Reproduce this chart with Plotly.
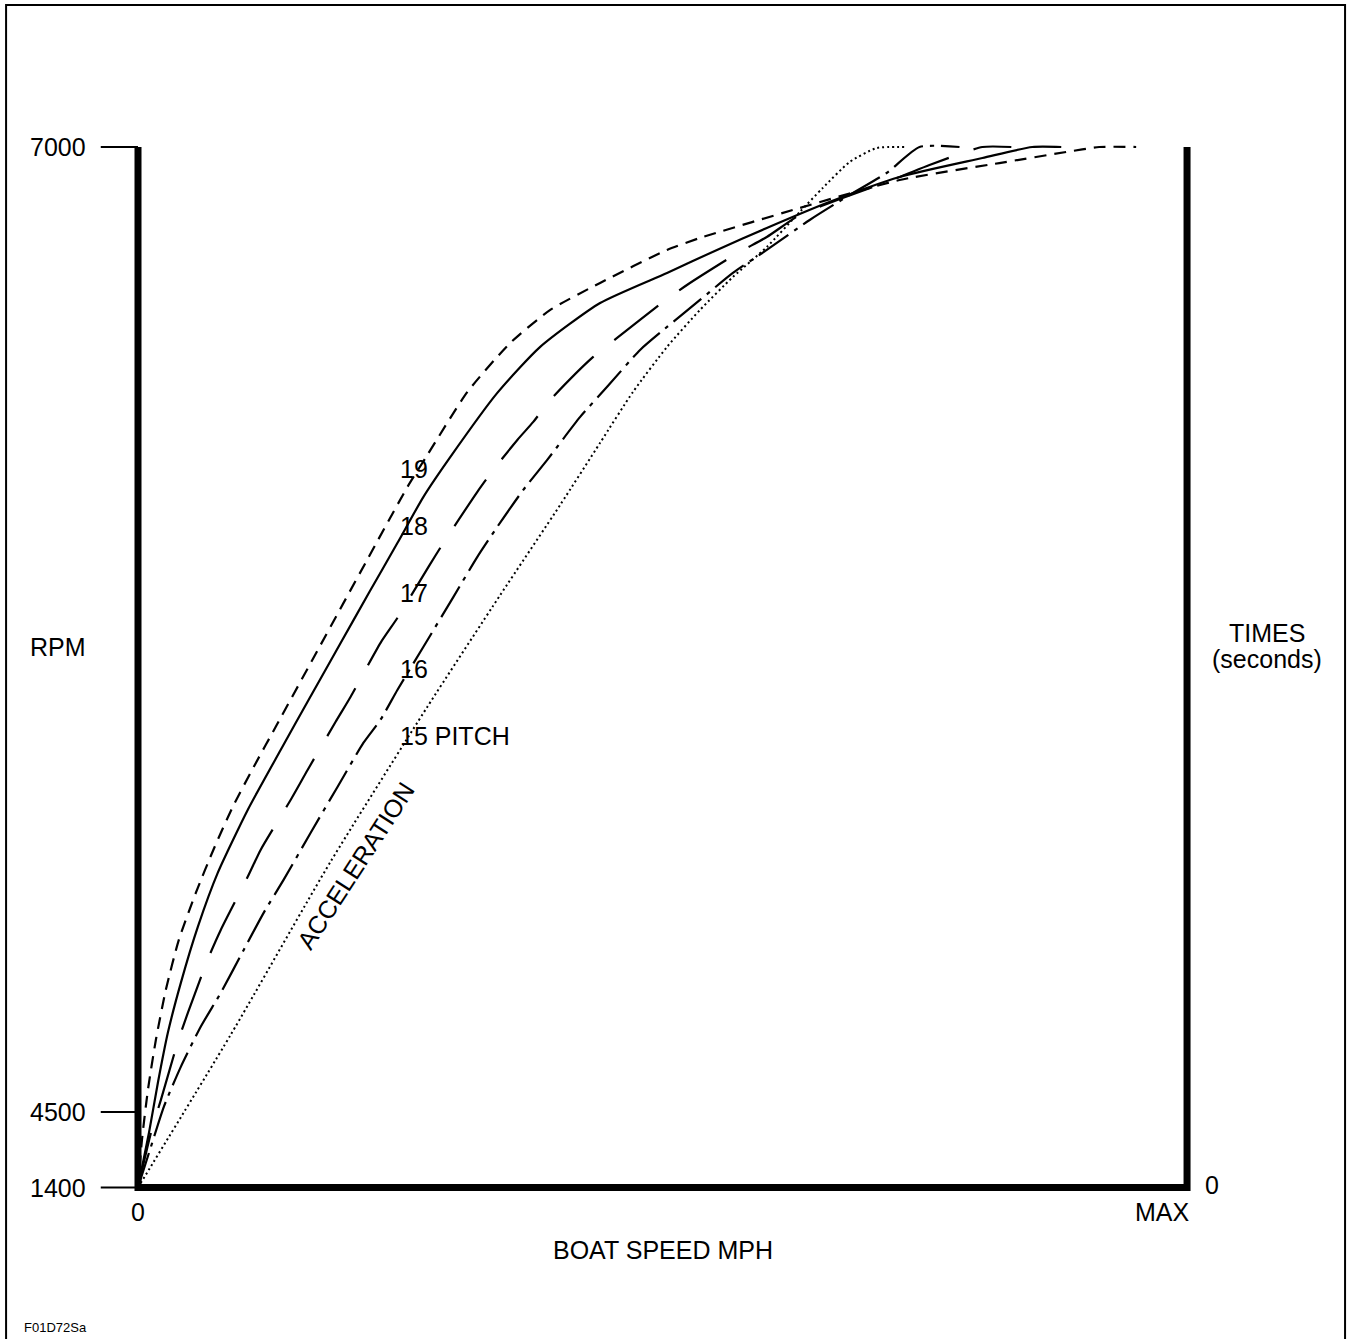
import plotly.graph_objects as go

# Boat speed as % of MAX, RPM as % of the (non-linear) rpm axis height
pitch19_speed = [0, 0.38, 0.95, 1.71, 2.66, 3.90, 5.52, 7.23, 9.04, 11.04, 13.13, 17.41, 21.69, 25.69,
                 27.59, 31.40, 35.49, 39.30, 44.05, 50.43, 53.57, 63.08, 72.60, 82.11, 88.49, 91.63, 95.15]
pitch19_rpm = [0, 4.61, 9.41, 14.22, 19.02, 23.82, 28.34, 32.56, 36.60, 40.44, 44.28, 52.16, 60.04, 67.34,
               70.41, 76.46, 81.17, 84.34, 86.94, 90.11, 91.26, 94.14, 96.83, 98.46, 99.52, 100, 100]

pitch18_speed = [0, 1.05, 1.90, 2.85, 4.09, 5.71, 7.61, 10.47, 13.61, 16.27, 19.22, 22.07, 24.74, 27.21,
                 29.78, 34.25, 38.34, 44.05, 50.43, 55.19, 59.94, 65.65, 72.60, 80.49, 85.25, 88.01]
pitch18_rpm = [0, 5.28, 10.09, 14.89, 19.69, 25.07, 30.26, 36.31, 42.07, 46.88, 52.16, 57.25, 61.96, 66.38,
               70.22, 76.37, 80.79, 85.01, 87.90, 90.11, 92.22, 94.62, 97.12, 98.94, 100, 100]

pitch17_speed = [0, 1.24, 2.19, 3.81, 4.76, 6.76, 7.90, 10.47, 11.70, 14.56, 16.18, 18.84, 20.27, 23.12,
                 24.74, 27.69, 29.12, 32.35, 33.87, 36.16, 37.68, 39.30, 43.39, 45.67, 50.05, 52.33,
                 57.18, 59.94, 63.08, 67.17, 72.60, 75.45, 80.49, 83.25]
pitch17_rpm = [0, 5.28, 8.45, 14.03, 16.81, 22.19, 24.78, 29.88, 32.47, 37.27, 40.15, 44.76, 47.17, 52.35,
               54.76, 59.65, 61.96, 66.86, 68.97, 71.85, 73.58, 75.70, 79.83, 81.65, 85.11, 86.74,
               89.82, 91.35, 93.47, 95.10, 97.12, 98.27, 100, 100]

pitch16_speed = [0, 1.24, 2.47, 4.09, 5.99, 7.90, 10.09, 11.99, 13.89, 16.46, 19.03, 21.50, 23.12, 24.74,
                 27.21, 30.07, 32.35, 34.25, 36.73, 39.01, 42.15, 44.72, 47.86, 50.43, 53.57, 56.71,
                 59.94, 64.03, 67.84, 71.36, 74.50, 78.31]
pitch16_rpm = [0, 3.94, 7.78, 11.62, 15.47, 18.73, 22.86, 26.42, 29.59, 34.10, 38.52, 42.75, 44.96, 47.84,
               51.97, 56.77, 60.61, 63.50, 67.05, 69.93, 74.06, 76.95, 80.50, 82.71, 85.30, 87.90,
               90.11, 92.99, 95.39, 97.50, 100, 100]

pitch15_speed = [0, 8.85, 18.36, 27.59, 34.54, 40.25, 44.05, 47.19, 50.43, 53.57, 56.71, 59.94, 63.08,
                 65.27, 67.84, 70.41, 73.26]
pitch15_rpm = [0, 14.70, 31.32, 46.21, 56.96, 65.61, 71.57, 76.47, 80.79, 84.34, 87.51, 90.39, 93.76,
               96.06, 98.56, 99.90, 100]

rpm_tick_pos = [0, 7.26, 100]
rpm_tick_text = ["1400", "4500", "7000"]

curve_labels = ["19", "18", "17", "16", "15 PITCH"]
curve_label_pos = [69.07, 63.6, 57.1, 49.8, 43.4]

FONT = "Liberation Sans, Arial, sans-serif"

curves = [
    (pitch19_speed, pitch19_rpm, "12px,8px", 2.2),
    (pitch18_speed, pitch18_rpm, "solid", 2.2),
    (pitch17_speed, pitch17_rpm, "56px,26px", 2.2),
    (pitch16_speed, pitch16_rpm, "36px,7px,4px,7px", 2.2),
    (pitch15_speed, pitch15_rpm, "2px,3px", 2.0),
]

fig = go.Figure()
for xs, ys, dash, w in curves:
    fig.add_trace(go.Scatter(
        x=xs, y=ys, mode="lines",
        line=dict(color="black", width=w, dash=dash, shape="spline", smoothing=0.6),
        hoverinfo="skip", showlegend=False,
    ))

# axes frame (left, bottom, right) in one path so corners join
shapes = [
    dict(type="path", xref="x", yref="y", path="M 0,100 L 0,0 L 100,0 L 100,100",
         line=dict(color="black", width=7)),
    dict(type="rect", xref="paper", yref="paper", x0=0.0045, x1=0.9956, y0=-0.02, y1=0.9963,
         line=dict(color="black", width=2)),
]
for yv in rpm_tick_pos:
    shapes.append(dict(type="line", xref="x", yref="y", x0=-3.55, x1=0, y0=yv, y1=yv,
                       line=dict(color="black", width=2)))

annotations = []
for yv, txt in zip(rpm_tick_pos, rpm_tick_text):
    annotations.append(dict(x=-4.77, y=yv, text=txt, xanchor="right", yanchor="middle"))
annotations += [
    dict(x=-4.77, y=51.95, text="RPM", xanchor="right", yanchor="middle"),
    dict(x=0, y=-2.35, text="0", xanchor="center", yanchor="middle"),
    dict(x=97.7, y=-2.35, text="MAX", xanchor="center", yanchor="middle"),
    dict(x=102.4, y=0.24, text="0", xanchor="center", yanchor="middle"),
    dict(x=50.0, y=-6.0, text="BOAT SPEED MPH", xanchor="center", yanchor="middle"),
    dict(x=107.6, y=53.3, text="TIMES", xanchor="center", yanchor="middle"),
    dict(x=107.6, y=50.8, text="(seconds)", xanchor="center", yanchor="middle"),
    dict(x=20.78, y=31.0, text="ACCELERATION", textangle=-57, xanchor="center", yanchor="middle"),
]
for txt, yv in zip(curve_labels, curve_label_pos):
    annotations.append(dict(x=24.8, y=yv, text=txt, xanchor="left", yanchor="middle"))
for a in annotations:
    a.update(xref="x", yref="y", showarrow=False, font=dict(family=FONT, size=25, color="black"))
annotations.append(dict(x=-11.06, y=-13.5, xref="x", yref="y", text="F01D72Sa", showarrow=False,
                        xanchor="left", yanchor="middle",
                        font=dict(family=FONT, size=13, color="black")))

fig.update_layout(
    width=1351, height=1339,
    margin=dict(l=0, r=0, t=0, b=0),
    paper_bgcolor="white", plot_bgcolor="white",
    xaxis=dict(range=[-13.155, 115.63], visible=False, fixedrange=True),
    yaxis=dict(range=[-14.56, 114.13], visible=False, fixedrange=True),
    shapes=shapes, annotations=annotations,
    showlegend=False,
)

# page has a default body margin; drop it so the figure sits at the window origin
fig.write_html("out.html", post_script="document.body.style.margin='0';",
               config={"displayModeBar": False})
